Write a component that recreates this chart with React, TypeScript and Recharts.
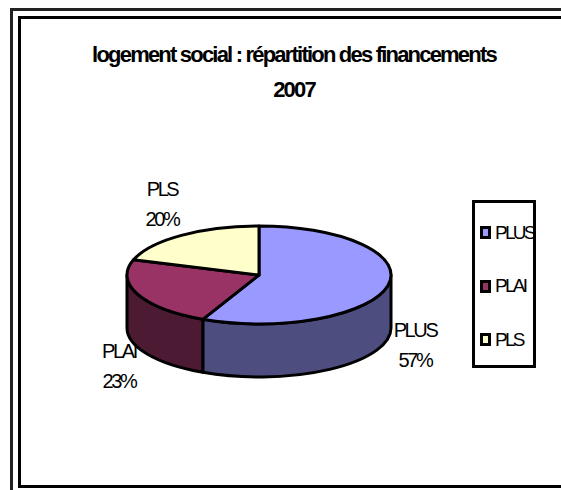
import { PieChart, Pie, Cell, Legend } from 'recharts';

const NAMES = ['PLUS', 'PLAI', 'PLS'];
const VALUES = [57, 23, 20];
const COLORS = ['#9999ff', '#993366', '#ffffcc'];
const SIDE_COLORS = ['#4d4d80', '#4d1a33', '#808066'];
const TITLE_LINES = ['logement social : répartition des financements', '2007'];

const data = NAMES.map((name, i) => ({ name, value: VALUES[i] }));

const FONT = '"Liberation Sans", Arial, sans-serif';
const SQUASH = 49 / 132;
const DEPTH = 53;

// where each data label sits, relative to the pie centre
const LABEL_OFFSETS = [
  { x: 156, y: 62 },
  { x: -140, y: 83 },
  { x: -97, y: -79 },
];

function Slice(props: any) {
  const { cx, cy, outerRadius, startAngle, endAngle, fill, index } = props;
  const rx = outerRadius;
  const ry = outerRadius * SQUASH;
  const pt = (deg: number, dy = 0) => {
    const r = (deg * Math.PI) / 180;
    return `${cx + rx * Math.cos(r)} ${cy - ry * Math.sin(r) + dy}`;
  };
  const large = Math.abs(startAngle - endAngle) > 180 ? 1 : 0;
  const s = Math.min(startAngle, 0);
  const e = Math.max(endAngle, -180);
  return (
    <g>
      {s > e && (
        <path
          d={`M ${pt(s)} A ${rx} ${ry} 0 0 1 ${pt(e)} L ${pt(e, DEPTH)} A ${rx} ${ry} 0 0 0 ${pt(s, DEPTH)} Z`}
          fill={SIDE_COLORS[index]}
          stroke="#000"
          strokeWidth={3}
          strokeLinejoin="round"
        />
      )}
      <path
        d={`M ${cx} ${cy} L ${pt(startAngle)} A ${rx} ${ry} 0 ${large} 1 ${pt(endAngle)} Z`}
        fill={fill}
        stroke="#000"
        strokeWidth={3}
        strokeLinejoin="round"
      />
    </g>
  );
}

function SliceLabel({ cx, cy, index, name, percent }: any) {
  const off = LABEL_OFFSETS[index];
  const x = cx + off.x;
  const y = cy + off.y;
  return (
    <text textAnchor="middle" fontFamily={FONT} fontSize={20} letterSpacing={-2.4} fill="#000">
      <tspan x={x} y={y}>{name}</tspan>
      <tspan x={x} y={y + 29.5}>{Math.round(percent * 100)}%</tspan>
    </text>
  );
}

function LegendBox() {
  return (
    <div
      style={{
        boxSizing: 'border-box',
        width: 64,
        height: 168,
        border: '3px solid #000',
        paddingTop: 3,
        background: '#fff',
        fontFamily: FONT,
      }}
    >
      {NAMES.map((name, i) => (
        <div key={name} style={{ height: 53.5, display: 'flex', alignItems: 'center' }}>
          <span
            style={{
              boxSizing: 'border-box',
              flex: 'none',
              width: 11,
              height: 13,
              marginLeft: 5,
              marginRight: 4,
              border: '3px solid #000',
              background: COLORS[i],
            }}
          />
          <span style={{ fontSize: 19, letterSpacing: -2.7, whiteSpace: 'nowrap', color: '#000' }}>{name}</span>
        </div>
      ))}
    </div>
  );
}

function Rule({ left, top, width, height, color = '#000' }: any) {
  return <div style={{ position: 'absolute', left, top, width, height, background: color }} />;
}

export default function App() {
  return (
    <div style={{ position: 'absolute', left: 0, top: 0, width: 561, height: 490, overflow: 'hidden', background: '#fff' }}>
      {/* double frame, open on the right */}
      <Rule left={10} top={8} width={551} height={3} color="#222" />
      <Rule left={10} top={8} width={3} height={482} color="#222" />
      <Rule left={18} top={16} width={543} height={3} />
      <Rule left={18} top={16} width={3} height={472} />
      <Rule left={18} top={485} width={543} height={3} />
      <div style={{ position: 'absolute', left: 0, top: 0 }}>
        <PieChart width={561} height={490} margin={{ top: 0, right: 0, bottom: 0, left: 0 }}>
          <text textAnchor="middle" fontFamily={FONT} fontWeight="bold" fontSize={22} letterSpacing={-1.8} fill="#000">
            <tspan x={294} y={62}>{TITLE_LINES[0]}</tspan>
            <tspan x={294} y={97}>{TITLE_LINES[1]}</tspan>
          </text>
          <Pie
            data={data}
            dataKey="value"
            nameKey="name"
            cx={259}
            cy={275}
            outerRadius={132}
            startAngle={90}
            endAngle={-270}
            stroke="#000"
            shape={Slice}
            label={SliceLabel}
            labelLine={false}
            isAnimationActive={false}
          >
            {data.map((_, index) => (
              <Cell key={`cell-${index}`} fill={COLORS[index]} />
            ))}
          </Pie>
          <Legend
            content={<LegendBox />}
            wrapperStyle={{ position: 'absolute', left: 472, top: 200, width: 64, height: 168, bottom: 'auto', right: 'auto' }}
          />
        </PieChart>
      </div>
    </div>
  );
}
